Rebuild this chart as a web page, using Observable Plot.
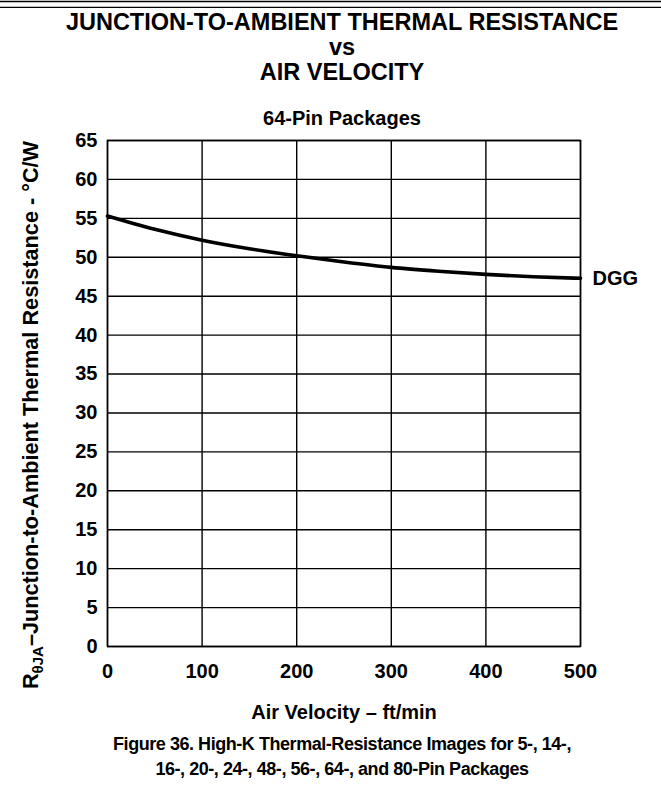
<!DOCTYPE html>
<html><head><meta charset="utf-8">
<script src="https://cdn.jsdelivr.net/npm/d3@7"></script>
<script src="https://cdn.jsdelivr.net/npm/@observablehq/plot@0.6"></script>
<style>
html,body{margin:0;padding:0;background:#fff;}
body{font-family:"Liberation Sans",Arial,sans-serif;font-weight:bold;color:#000;}
#wrap{position:relative;width:661px;height:804px;overflow:hidden;}
#topbar{position:absolute;left:0;top:0;}
.t{position:absolute;left:0;width:684px;text-align:center;white-space:nowrap;}
#ylab{position:absolute;left:31px;top:415px;transform:translate(-50%,-50%) rotate(-90deg);white-space:nowrap;font-size:21.7px;line-height:24px;}
#ylab sub{font-size:15px;vertical-align:-5px;line-height:0;}
#chart{position:absolute;left:0;top:130px;}
.cap{font-size:18px;line-height:20px;letter-spacing:-0.45px;}
</style></head>
<body><div id="wrap">
<div id="topbar"></div>
<div class="t" style="top:9px;font-size:23.5px;line-height:26px">JUNCTION-TO-AMBIENT THERMAL RESISTANCE</div>
<div class="t" style="top:34px;font-size:23.5px;line-height:26px">vs</div>
<div class="t" style="top:59px;font-size:23.5px;line-height:26px">AIR VELOCITY</div>
<div class="t" style="top:107px;font-size:20px;line-height:22px">64-Pin Packages</div>
<div id="ylab">R<sub>θJA</sub>–Junction-to-Ambient Thermal Resistance - °C/W</div>
<div id="chart"></div>
<div class="t cap" style="top:734px">Figure 36. High-K Thermal-Resistance Images for 5-, 14-,</div>
<div class="t cap" style="top:759px">16-, 20-, 24-, 48-, 56-, 64-, and 80-Pin Packages</div>
</div>
<script>
// data
const velocity = [0, 50, 100, 150, 200, 250, 300, 350, 400, 450, 500];
const rthetaJA = [55.3, 53.6, 52.2, 51.1, 50.2, 49.4, 48.7, 48.2, 47.8, 47.5, 47.3];
const seriesName = "DGG";
const xTicks = [0, 100, 200, 300, 400, 500];
const yTicks = [0, 5, 10, 15, 20, 25, 30, 35, 40, 45, 50, 55, 60, 65];

const data = velocity.map((v, i) => ({v, r: rthetaJA[i], s: seriesName}));
const last = [data[data.length - 1]];

// decorative double rule at the page top
const bar = Plot.plot({
  width: 661, height: 8, marginTop: 1, marginBottom: 1, marginLeft: 0, marginRight: 0,
  x: {axis: null}, y: {axis: null},
  marks: [
    Plot.frame({anchor: "top", stroke: "#000", strokeWidth: 1.5}),
    Plot.frame({anchor: "bottom", stroke: "#000", strokeWidth: 1.5})
  ]
});
document.getElementById("topbar").appendChild(bar);

const plot = Plot.plot({
  width: 661,
  height: 600,
  marginLeft: 107,
  marginRight: 81,
  marginTop: 10,
  marginBottom: 84,
  style: {fontFamily: '"Liberation Sans", Arial, sans-serif', fontWeight: "bold", fontSize: "20px", color: "#000", background: "transparent"},
  x: {domain: [0, 500], ticks: xTicks, tickSize: 0, tickPadding: 17, label: "Air Velocity – ft/min", labelAnchor: "center", labelArrow: "none", labelOffset: 72},
  y: {domain: [0, 65], ticks: yTicks, tickSize: 0, tickPadding: 10, label: null},
  marks: [
    Plot.gridX(xTicks, {stroke: "#000", strokeOpacity: 1, strokeWidth: 1.4}),
    Plot.gridY(yTicks, {stroke: "#000", strokeOpacity: 1, strokeWidth: 1.4}),
    Plot.frame({stroke: "#000", strokeWidth: 1.5}),
    Plot.line(data, {x: "v", y: "r", curve: "monotone-x", stroke: "#000", strokeWidth: 3.6}),
    Plot.text(last, {x: "v", y: "r", text: "s", textAnchor: "start", dx: 12, fontSize: 20, fontWeight: "bold"})
  ]
});
document.getElementById("chart").appendChild(plot);
</script>
</body></html>
